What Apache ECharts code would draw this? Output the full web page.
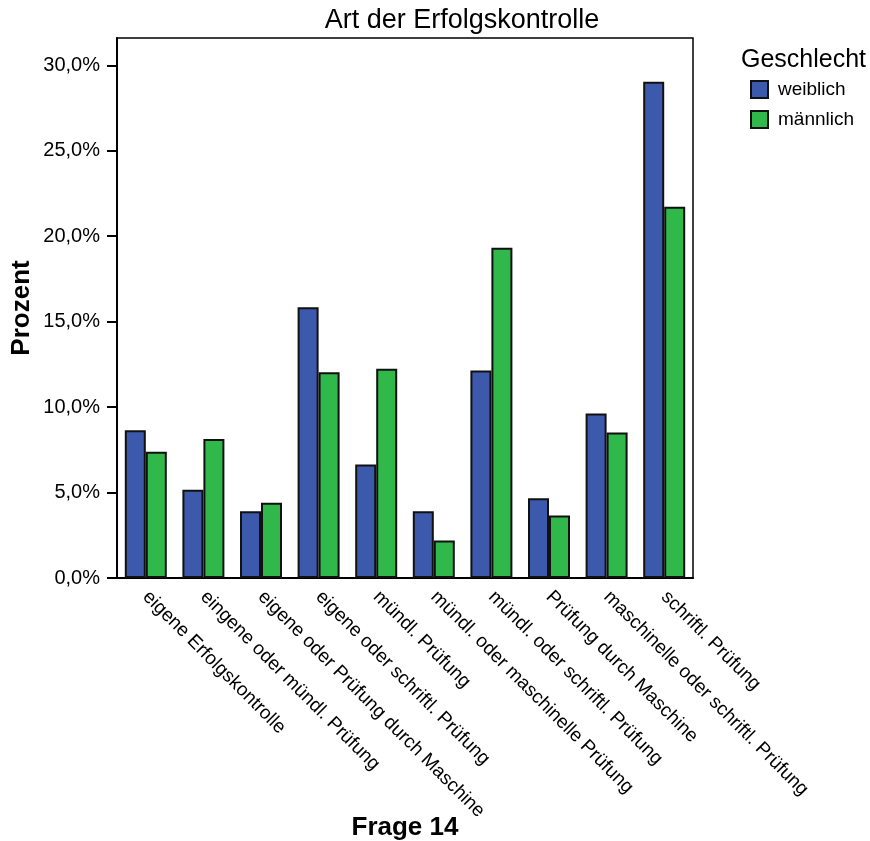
<!DOCTYPE html>
<html>
<head>
<meta charset="utf-8">
<script src="https://cdn.jsdelivr.net/npm/echarts@6/dist/echarts.min.js"></script>
<style>html,body{margin:0;padding:0;background:#fff}#c{width:870px;height:841px}</style>
</head>
<body>
<div id="c"></div>
<script>
const categories = [
  'eigene Erfolgskontrolle',
  'eingene oder mündl. Prüfung',
  'eigene oder Prüfung durch Maschine',
  'eigene oder schriftl. Prüfung',
  'mündl. Prüfung',
  'mündl. oder maschinelle Prüfung',
  'mündl. oder schriftl. Prüfung',
  'Prüfung durch Maschine',
  'maschinelle oder schriftl. Prüfung',
  'schriftl. Prüfung'
];
const weiblich = [8.65, 5.17, 3.91, 15.85, 6.64, 3.91, 12.14, 4.67, 9.63, 29.04];
const maennlich = [7.39, 8.14, 4.40, 12.04, 12.25, 2.20, 19.32, 3.66, 8.52, 21.73];
const yTicks = [0, 5, 10, 15, 20, 25, 30];

const FONT = '"Liberation Sans", Arial, sans-serif';
const NARROW = '"Liberation Sans Narrow", "Arial Narrow", "Liberation Sans", sans-serif';
const chart = echarts.init(document.getElementById('c'), null, {renderer: 'canvas'});
chart.setOption({
  animation: false,
  backgroundColor: '#fff',
  textStyle: {fontFamily: FONT, color: '#000'},
  title: [
    {text: 'Art der Erfolgskontrolle', left: 457, top: 2, textAlign: 'center',
     textStyle: {fontFamily: FONT, fontSize: 27, fontWeight: 'normal', color: '#000'}},
    {text: 'Geschlecht', left: 736, top: 43,
     textStyle: {fontFamily: FONT, fontSize: 25, fontWeight: 'normal', color: '#000'}}
  ],
  legend: {
    orient: 'vertical', left: 745, top: 75, itemWidth: 17, itemHeight: 17, itemGap: 11,
    icon: 'rect',
    textStyle: {fontFamily: FONT, fontSize: 19, color: '#000', padding: [0, 0, 0, 5]},
    data: ['weiblich', 'männlich']
  },
  grid: {left: 117, right: 177, top: 38, bottom: 263, show: true, borderColor: '#000', borderWidth: 1.5,
         containLabel: false, outerBoundsMode: 'none'},
  xAxis: {
    type: 'category', data: categories,
    name: 'Frage 14', nameLocation: 'middle', nameGap: 237, nameMoveOverlap: false,
    nameTextStyle: {fontFamily: NARROW, fontSize: 26, fontWeight: 'bold', color: '#000'},
    axisLine: {lineStyle: {color: '#000', width: 2}},
    axisTick: {alignWithLabel: true, length: 10, lineStyle: {color: '#000', width: 2}},
    axisLabel: {rotate: -45, interval: 0, margin: 16, fontFamily: FONT, fontSize: 19, color: '#000'}
  },
  yAxis: {
    type: 'value', min: 0, max: 31.6,
    name: 'Prozent', nameLocation: 'middle', nameGap: 82, nameMoveOverlap: false,
    nameTextStyle: {fontFamily: NARROW, fontSize: 26, fontWeight: 'bold', color: '#000'},
    axisLine: {show: true, lineStyle: {color: '#000', width: 2}},
    axisTick: {show: true, length: 10, customValues: yTicks, lineStyle: {color: '#000', width: 2}},
    splitLine: {show: false},
    axisLabel: {customValues: yTicks, margin: 17, fontFamily: FONT, fontSize: 20, color: '#000',
      formatter: v => v.toFixed(1).replace('.', ',') + '%'}
  },
  series: [
    {name: 'weiblich', type: 'bar', data: weiblich, barWidth: 21, barGap: '0%',
     itemStyle: {color: '#3d59ab', borderColor: '#111', borderWidth: 2}},
    {name: 'männlich', type: 'bar', data: maennlich, barWidth: 21, barGap: '0%',
     itemStyle: {color: '#30b84a', borderColor: '#111', borderWidth: 2}}
  ]
});
</script>
</body>
</html>
